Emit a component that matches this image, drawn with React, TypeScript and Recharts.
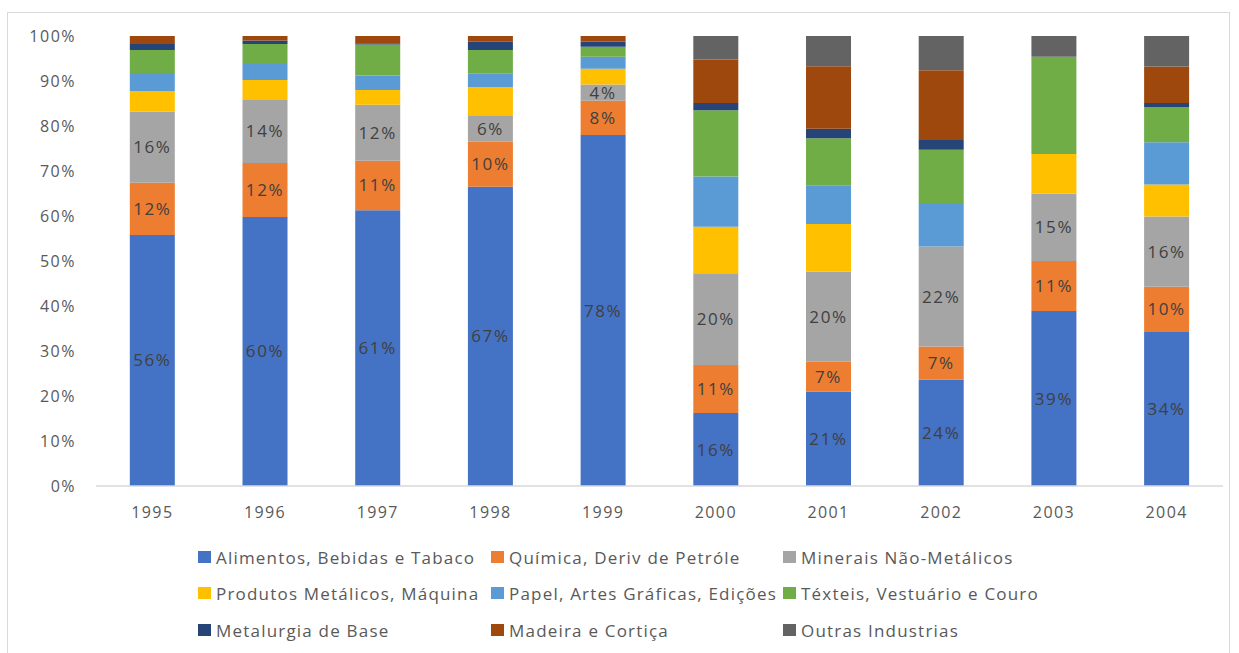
import { Bar, BarChart, LabelList, XAxis, YAxis } from "recharts";

const years = ["1995", "1996", "1997", "1998", "1999", "2000", "2001", "2002", "2003", "2004"];

// shares (%) per sector, bottom of the stack first
const alimentos = [55.8, 59.8, 61.3, 66.5, 78.0, 16.2, 21.0, 23.6, 38.9, 34.2];
const quimica = [11.6, 12.0, 11.0, 10.0, 7.6, 10.7, 6.6, 7.4, 11.1, 10.1];
const minerais = [15.8, 14.0, 12.4, 5.9, 3.6, 20.4, 20.0, 22.2, 15.0, 15.6];
const produtos = [4.6, 4.4, 3.3, 6.2, 3.5, 10.3, 10.6, 0, 8.8, 7.1];
const papel = [4.0, 3.6, 3.2, 3.1, 2.7, 11.2, 8.5, 9.7, 0, 9.4];
const texteis = [5.1, 4.4, 6.9, 5.2, 2.2, 14.7, 10.6, 11.8, 21.6, 7.8];
const metalurgia = [1.3, 0.8, 0.3, 1.8, 1.2, 1.6, 2.1, 2.2, 0, 0.9];
const madeira = [1.8, 1.0, 1.6, 1.3, 1.2, 9.7, 13.9, 15.5, 0, 8.1];
const outras = [0, 0, 0, 0, 0, 5.3, 6.7, 7.6, 4.6, 7.0];

const yTicks = [0, 10, 20, 30, 40, 50, 60, 70, 80, 90, 100];

const series = [
  { key: "alimentos", name: "Alimentos, Bebidas e Tabaco", color: "#4472C4", values: alimentos, label: true },
  { key: "quimica", name: "Química, Deriv de Petróle", color: "#ED7D31", values: quimica, label: true },
  { key: "minerais", name: "Minerais Não-Metálicos", color: "#A5A5A5", values: minerais, label: true },
  { key: "produtos", name: "Produtos Metálicos, Máquina", color: "#FFC000", values: produtos, label: false },
  { key: "papel", name: "Papel, Artes Gráficas, Edições", color: "#5B9BD5", values: papel, label: false },
  { key: "texteis", name: "Téxteis, Vestuário e Couro", color: "#70AD47", values: texteis, label: false },
  { key: "metalurgia", name: "Metalurgia de Base", color: "#264478", values: metalurgia, label: false },
  { key: "madeira", name: "Madeira e Cortiça", color: "#9E480E", values: madeira, label: false },
  { key: "outras", name: "Outras Industrias", color: "#636363", values: outras, label: false },
];

const data = years.map((year, i) => {
  const row: Record<string, string | number> = { year };
  series.forEach((s) => {
    row[s.key] = s.values[i];
  });
  return row;
});

const FONT = "'Open Sans', sans-serif";
const legendCols = [198, 491, 783];
const legendRows = [557, 593, 630];

export default function App() {
  return (
    <div
      style={{
        position: "absolute",
        left: 0,
        top: 0,
        width: 1239,
        height: 653,
        overflow: "hidden",
        background: "#fff",
        fontFamily: FONT,
      }}
    >
      <div
        style={{
          position: "absolute",
          left: 7,
          top: 12,
          width: 1221,
          height: 700,
          border: "1px solid #d9d9d9",
        }}
      />
      <div style={{ position: "absolute", left: 0, top: 0 }}>
        <BarChart
          width={1239}
          height={653}
          data={data}
          margin={{ top: 36, right: 16, left: 0, bottom: 127 }}
          barCategoryGap="30%"
        >
          <XAxis
            dataKey="year"
            height={40}
            tickLine={false}
            tickSize={0}
            tickMargin={21}
            axisLine={{ stroke: "#d9d9d9", strokeWidth: 1.5 }}
            tick={{ fill: "#595959", fontSize: 16, fontFamily: FONT, letterSpacing: 1.4 }}
          />
          <YAxis
            width={96}
            domain={[0, 100]}
            ticks={yTicks}
            allowDataOverflow
            axisLine={false}
            tickLine={false}
            tickSize={0}
            tickMargin={20}
            tickFormatter={(v: number) => `${v}%`}
            tick={{ fill: "#595959", fontSize: 16, fontFamily: FONT, letterSpacing: 1.5 }}
          />
          {series.map((s) => (
            <Bar
              key={s.key}
              dataKey={s.key}
              name={s.name}
              stackId="a"
              fill={s.color}
              isAnimationActive={false}
            >
              {s.label && (
                <LabelList
                  dataKey={s.key}
                  position="center"
                  formatter={(v: number) => `${Math.round(v)}%`}
                  style={{ fill: "#404040", fontSize: 17, fontFamily: FONT, letterSpacing: 1.6 }}
                />
              )}
            </Bar>
          ))}
        </BarChart>
      </div>
      {series.map((s, i) => (
        <div
          key={s.key}
          style={{
            position: "absolute",
            left: legendCols[i % 3],
            top: legendRows[Math.floor(i / 3)] - 12,
            height: 24,
            display: "flex",
            alignItems: "center",
            whiteSpace: "nowrap",
            color: "#595959",
            fontSize: 17,
            letterSpacing: 1.2,
          }}
        >
          <span
            style={{
              display: "inline-block",
              width: 13,
              height: 12,
              background: s.color,
              marginRight: 5,
            }}
          />
          {s.name}
        </div>
      ))}
    </div>
  );
}
